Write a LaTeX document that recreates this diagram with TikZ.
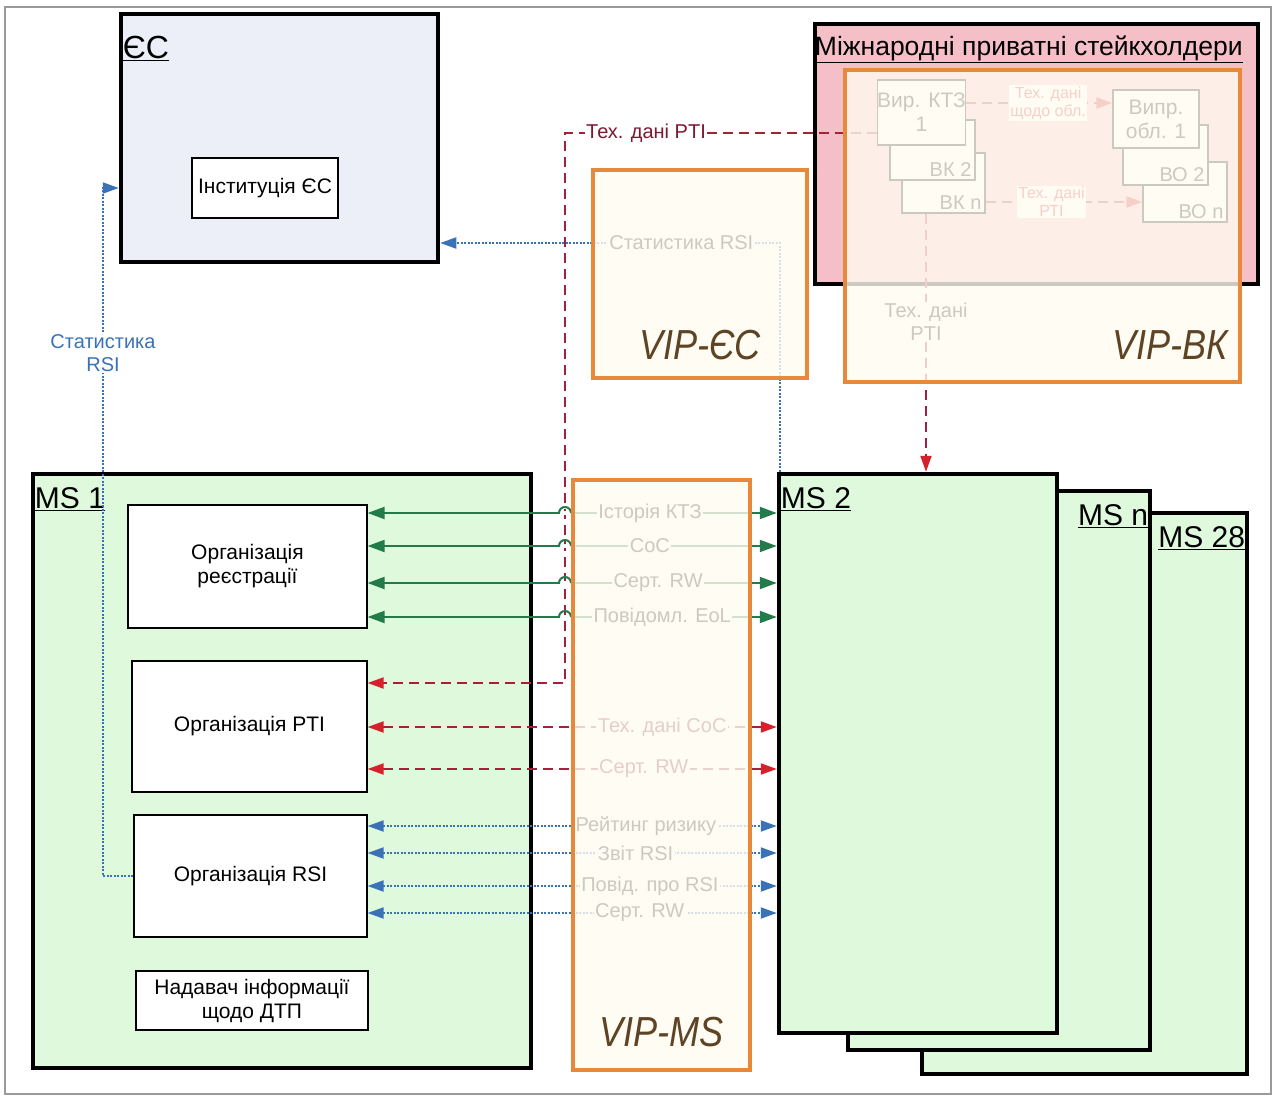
\documentclass[tikz,border=0pt]{standalone}
\usepackage{fontspec}
\setmainfont{Liberation Sans}
\usetikzlibrary{arrows.meta}
\definecolor{ecfill}{HTML}{ECEFF7}
\definecolor{msfill}{HTML}{DFF9DD}
\definecolor{pinkfill}{HTML}{F5BFC8}
\definecolor{viporange}{HTML}{E8893A}
\definecolor{vipcream}{HTML}{FFFCF0}
\definecolor{vipbrown}{HTML}{5E4424}
\definecolor{grnline}{HTML}{237A4A}
\definecolor{redline}{HTML}{A3213A}
\definecolor{redtip}{HTML}{D6202C}
\definecolor{bluline}{HTML}{3A72B8}
\definecolor{darkred}{HTML}{7E1830}
\definecolor{framegray}{HTML}{9A9A9A}

\begin{document}
\begin{tikzpicture}[x=1pt, y=-1pt,
    bigbox/.style={draw=black, line width=4.5pt, inner sep=0pt},
    box/.style={draw=black, line width=1.2pt, fill=white, inner sep=0pt, align=center, font=\fontsize{21}{24}\selectfont},
    title/.style={font=\fontsize{30}{34}\selectfont, inner sep=4pt, yshift=-12pt},
    inlbl/.style={font=\fontsize{20}{23}\selectfont, inner sep=4pt, anchor=south east},
    vipbox/.style={draw=viporange, line width=4.5pt, fill=vipcream, fill opacity=0.8, inner sep=0pt},
    viplbl/.style={text=vipbrown, font=\fontsize{42}{46}\selectfont\itshape},
    lbl/.style={fill=white, inner sep=1.5pt, font=\fontsize{20}{23}\selectfont, align=center},
    slbl/.style={lbl, font=\fontsize{16}{18}\selectfont},
    grnarr/.style={draw=grnline, line width=2pt, >={Triangle[length=17pt,width=12pt]}},
    redarr/.style={draw=redline, line width=2pt, dash pattern=on 10pt off 6pt, >={Triangle[length=16pt,width=11pt,color=redtip]}},
    bluarr/.style={draw=bluline, line width=2pt, dash pattern=on 2pt off 1.5pt, >={Triangle[length=16pt,width=11pt]}}
  ]
  \useasboundingbox (0,0) rectangle (1274,1102);
  \draw[framegray, line width=1.5pt] (5,7) rectangle (1271,1094);

  % EU
  \node[bigbox, fill=ecfill, minimum width=317pt, minimum height=248pt,
        label={[title, font=\fontsize{32}{36}\selectfont, anchor=north west, yshift=-8pt]north west:\underline{ЄС}}] (ec) at (279.5,138) {};
  \node[box, minimum width=146pt, minimum height=60pt] (instec) at (265,188) {Інституція ЄС};

  % international private stakeholders
  \node[bigbox, fill=pinkfill, minimum width=443pt, minimum height=260pt,
        label={[title, font=\fontsize{26.5}{30}\selectfont, anchor=north west, inner sep=2pt]north west:\underline{Міжнародні приватні стейкхолдери}}] (stake) at (1036.5,154) {};
  \node[box, minimum width=83pt, minimum height=60pt, label={[inlbl]south east:ВК n}] (vkn) at (943.5,183) {};
  \node[box, minimum width=85pt, minimum height=60pt, label={[inlbl]south east:ВК 2}] (vk2) at (932.5,150) {};
  \node[box, minimum width=87pt, minimum height=65pt] (vk1) at (921.5,112.5) {Вир. КТЗ\\1};
  \node[box, minimum width=84pt, minimum height=60pt, label={[inlbl]south east:ВО n}] (von) at (1185,192) {};
  \node[box, minimum width=85pt, minimum height=60pt, label={[inlbl]south east:ВО 2}] (vo2) at (1165.5,155) {};
  \node[box, minimum width=86pt, minimum height=58pt] (vo1) at (1156,119) {Випр.\\обл. 1};
  \draw[redarr, ->] (vk1.east |- 0,103) -- node[slbl, pos=0.56, text=redtip] {Тех. дані\\щодо обл.} (vo1.west |- 0,103);
  \draw[redarr, ->] (vkn.east |- 0,202) -- node[slbl, pos=0.42, text=redtip] {Тех. дані\\РТІ} (von.west |- 0,202);

  % member state 1
  \node[bigbox, fill=msfill, minimum width=498pt, minimum height=594pt,
        label={[title, anchor=north west]north west:\underline{MS 1}}] (ms1) at (282,771) {};
  \node[box, minimum width=239pt, minimum height=123pt] (orgreg) at (247.5,566.5) {Організація\\реєстрації};
  \node[box, minimum width=235pt, minimum height=131pt] (orgpti) at (249.5,726.5) {Організація PTI};
  \node[box, minimum width=233pt, minimum height=122pt] (orgrsi) at (250.5,876) {Організація RSI};
  \node[box, minimum width=232pt, minimum height=59pt] (dtp) at (252,1000.5) {Надавач інформації\\щодо ДТП};

  % other member states
  \node[bigbox, fill=msfill, minimum width=325pt, minimum height=561pt,
        label={[title, anchor=north east]north east:\underline{MS 28}}] (ms28) at (1084.5,793.5) {};
  \node[bigbox, fill=msfill, minimum width=302pt, minimum height=559pt,
        label={[title, anchor=north east]north east:\underline{MS n}}] (msn) at (999,770.5) {};
  \node[bigbox, fill=msfill, minimum width=278pt, minimum height=559pt,
        label={[title, anchor=north west]north west:\underline{MS 2}}] (ms2) at (918,753.5) {};

  % PTI data and RSI statistics
  \draw[redarr, ->] (vk1.west |- 0,133) -- node[lbl, pos=0.74, text=darkred] {Тех. дані PTI} (565,133) -- (565,683) -- (orgpti.east |- 0,683);
  \draw[redarr, ->] (vkn.south -| 926,0) -- node[lbl, pos=0.42] {Тех. дані\\PTI} (ms2.north -| 926,0);
  \draw[bluarr, ->] (orgrsi.west) -| (103,188) node[lbl, pos=0.88, text=bluline] {Статистика\\RSI} -- (ec.west |- 0,188);
  \draw[bluarr, ->] ([xshift=3pt]ms2.north west) |- node[lbl, pos=0.645] {Статистика RSI} (ec.east |- 0,243);

  % registration
  \draw[grnarr, <->] (orgreg.east |- 0,513) -- node[lbl, pos=0.69] {Історія КТЗ} (ms2.west |- 0,513);
  \draw[grnarr, <->] (orgreg.east |- 0,546) -- node[lbl, pos=0.69] {CoC} (ms2.west |- 0,546);
  \draw[grnarr, <->] (orgreg.east |- 0,583) -- node[lbl, pos=0.71] {Серт. RW} (ms2.west |- 0,583);
  \draw[grnarr, <->] (orgreg.east |- 0,617) -- node[lbl, pos=0.72] {Повідомл. EoL} (ms2.west |- 0,617);
  \foreach \y in {513,546,583,617} {
    \draw[white, line width=4.5pt] (560,\y) -- (571,\y);
    \draw[grnline, line width=2pt] (559,\y) arc[start angle=180, end angle=360, radius=6];
  }

  % PTI
  \draw[redarr, <->] (orgpti.east |- 0,727) -- node[lbl, pos=0.72, text=darkred] {Тех. дані CoC} (ms2.west |- 0,727);
  \draw[redarr, <->] (orgpti.east |- 0,769) -- node[lbl, pos=0.675, text=darkred] {Серт. RW} (ms2.west |- 0,769);

  % RSI
  \draw[bluarr, <->] (orgrsi.east |- 0,826) -- node[lbl, pos=0.68] {Рейтинг ризику} (ms2.west |- 0,826);
  \draw[bluarr, <->] (orgrsi.east |- 0,853) -- node[lbl, pos=0.655] {Звіт RSI} (ms2.west |- 0,853);
  \draw[bluarr, <->] (orgrsi.east |- 0,886) -- node[lbl, pos=0.69] {Повід. про RSI} (ms2.west |- 0,886);
  \draw[bluarr, <->] (orgrsi.east |- 0,913) -- node[lbl, pos=0.665] {Серт. RW} (ms2.west |- 0,913);

  % VIP overlays
  \node[vipbox, minimum width=214pt, minimum height=208pt] (vipec) at (700,274) {};
  \node[vipbox, minimum width=395pt, minimum height=312pt] (vipvk) at (1042.5,226) {};
  \node[vipbox, minimum width=177pt, minimum height=590pt] (vipms) at (661.5,775) {};
  \node[viplbl] (vipectxt) at (700,345) {\scalebox{0.86}[1]{VIP-ЄС}};
  \node[viplbl] (vipvktxt) at (1170,345) {\scalebox{0.86}[1]{VIP-ВК}};
  \node[viplbl] (vipmstxt) at (661.5,1032) {\scalebox{0.86}[1]{VIP-MS}};
\end{tikzpicture}
\end{document}
